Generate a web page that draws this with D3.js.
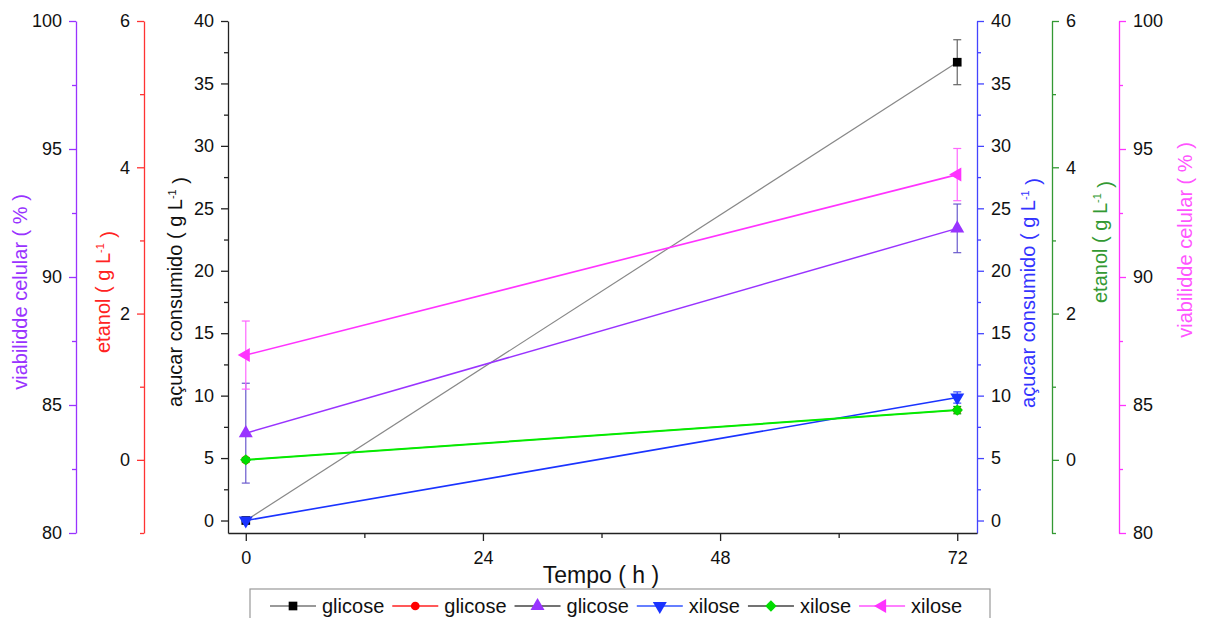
<!DOCTYPE html>
<html>
<head>
<meta charset="utf-8">
<script src="https://cdn.jsdelivr.net/npm/d3@7"></script>
<style>
  body { margin: 0; background: #fff; }
  svg { font-family: "Liberation Sans", Arial, sans-serif; }
</style>
</head>
<body>
<svg id="chart" width="1206" height="618"></svg>
<script>
// sampling times (h)
const times = [0, 72];

// glicose
const glicoseAcucar = [0, 36.7];
const glicoseAcucarErr = [0, 1.8];
const glicoseEtanol = [0, 0.68];
const glicoseEtanolErr = [0, 0];
const glicoseViab = [83.9, 91.9];
const glicoseViabErr = [1.95, 0.95];

// xilose
const xiloseAcucar = [0, 9.85];
const xiloseAcucarErr = [0.1, 0.45];
const xiloseEtanol = [0, 0.68];
const xiloseEtanolErr = [0.03, 0.05];
const xiloseViab = [86.95, 94.0];
const xiloseViabErr = [1.33, 1.02];

// tick values
const xTicks = [0, 24, 48, 72];
const xMinor = [12, 36, 60];
const acucarTicks = [0, 5, 10, 15, 20, 25, 30, 35, 40];
const acucarMinor = [2.5, 7.5, 12.5, 17.5, 22.5, 27.5, 32.5, 37.5];
const etanolTicks = [0, 2, 4, 6];
const etanolMinor = [-1, 1, 3, 5];
const viabTicks = [80, 85, 90, 95, 100];
const viabMinor = [82.5, 87.5, 92.5, 97.5];

const svg = d3.select('#chart');
const yTop = 21, yBottom = 533;

const x = d3.scaleLinear().domain([-1.8, 74]).range([228, 977]);
const yAcucar = d3.scaleLinear().domain([-1, 40]).range([yBottom, yTop]);
const yEtanol = d3.scaleLinear().domain([-1, 6]).range([yBottom, yTop]);
const yViab = d3.scaleLinear().domain([80, 100]).range([yBottom, yTop]);

// draws one y axis with major + minor ticks
function yAxis(scale, side, xPos, color, major, minor) {
    const make = side === 'left' ? d3.axisLeft : d3.axisRight;
    const g = svg.append('g').attr('transform', 'translate(' + xPos + ',0)');
    g.call(make(scale).tickValues(major).tickSize(7).tickSizeOuter(0).tickPadding(7).tickFormat(d3.format('d')));
    g.append('g').call(make(scale).tickValues(minor).tickSize(4).tickSizeOuter(0).tickFormat(''))
        .select('.domain').remove();
    g.selectAll('path, line').attr('stroke', color).attr('stroke-width', 1.3);
    g.selectAll('text').attr('fill', '#111').style('font-size', '18px').style('font-family', '"Liberation Sans", Arial, sans-serif');
    return g;
}

function axisTitle(xPos, yPos, color, main, sup) {
    const t = svg.append('text')
        .attr('transform', 'translate(' + xPos + ',' + yPos + ') rotate(-90)')
        .attr('text-anchor', 'middle')
        .attr('dy', '0.35em')
        .attr('fill', color)
        .style('font-size', '20px');
    t.append('tspan').text(main);
    if (sup) {
        t.append('tspan').attr('dy', '-0.55em').style('font-size', '11px').text(sup);
        t.append('tspan').attr('dy', '0.55em').text(' )');
    }
}

yAxis(yViab, 'left', 76, '#9933ff', viabTicks, viabMinor);
yAxis(yEtanol, 'left', 144, '#ff3333', etanolTicks, etanolMinor);
yAxis(yAcucar, 'left', 228, '#222', acucarTicks, acucarMinor);
yAxis(yAcucar, 'right', 977, '#4444ff', acucarTicks, acucarMinor);
yAxis(yEtanol, 'right', 1052, '#339933', etanolTicks, etanolMinor);
yAxis(yViab, 'right', 1119, '#ff33ff', viabTicks, viabMinor);

// bottom axis
const gx = svg.append('g').attr('transform', 'translate(0,' + yBottom + ')');
gx.call(d3.axisBottom(x).tickValues(xTicks).tickSize(8).tickSizeOuter(0).tickPadding(10));
gx.append('g').call(d3.axisBottom(x).tickValues(xMinor).tickSize(5).tickSizeOuter(0).tickFormat(''))
    .select('.domain').remove();
gx.selectAll('path, line').attr('stroke', '#222').attr('stroke-width', 1.3);
gx.selectAll('text').attr('fill', '#111').style('font-size', '18px').style('font-family', '"Liberation Sans", Arial, sans-serif');

svg.append('text').attr('x', 601).attr('y', 583).attr('text-anchor', 'middle')
    .attr('fill', '#111').style('font-size', '23px').text('Tempo ( h )');

axisTitle(20, 292, '#9933ff', 'viabilidde celular ( % )');
axisTitle(103, 292, '#ff2222', 'etanol ( g L', '-1');
axisTitle(175, 292, '#111', 'açucar  consumido ( g L', '-1');
axisTitle(1028, 293, '#3333ff', 'açucar  consumido ( g L', '-1');
axisTitle(1100, 242, '#339933', 'etanol ( g L', '-1');
axisTitle(1185, 240, '#ff55ff', 'viabilidde celular ( % )');

// marker shapes
const shapes = {
    square: { type: d3.symbolSquare, size: 75, rot: 0 },
    circle: { type: d3.symbolCircle, size: 60, rot: 0 },
    up: { type: d3.symbolTriangle, size: 85, rot: 0 },
    down: { type: d3.symbolTriangle, size: 85, rot: 180 },
    diamond: { type: d3.symbolSquare, size: 65, rot: 45 },
    left: { type: d3.symbolTriangle, size: 85, rot: -90 }
};

const series = [
    { label: 'glicose', vals: glicoseAcucar, err: glicoseAcucarErr, y: yAcucar, line: '#888', lineW: 1.2, color: '#000', errColor: '#666', shape: 'square', legLine: '#777' },
    { label: 'glicose', vals: glicoseEtanol, err: glicoseEtanolErr, y: yEtanol, line: '#ff0000', lineW: 1.0, color: '#ff0000', errColor: '#ff0000', shape: 'circle', legLine: '#ff2222' },
    { label: 'glicose', vals: glicoseViab, err: glicoseViabErr, y: yViab, line: '#9933ff', lineW: 1.5, color: '#9933ff', errColor: '#6a5acd', shape: 'up', legLine: '#444' },
    { label: 'xilose', vals: xiloseAcucar, err: xiloseAcucarErr, y: yAcucar, line: '#1a33ff', lineW: 1.6, color: '#1a33ff', errColor: '#3344ff', shape: 'down', legLine: '#3355ff' },
    { label: 'xilose', vals: xiloseEtanol, err: xiloseEtanolErr, y: yEtanol, line: '#00ee00', lineW: 2.0, color: '#00dd00', errColor: '#00aa00', shape: 'diamond', legLine: '#444' },
    { label: 'xilose', vals: xiloseViab, err: xiloseViabErr, y: yViab, line: '#ff33ff', lineW: 1.6, color: '#ff33ff', errColor: '#ff66ff', shape: 'left', legLine: '#ff55ff' }
];

function marker(sel, shape, color) {
    const s = shapes[shape];
    return sel.append('path')
        .attr('d', d3.symbol().type(s.type).size(s.size)())
        .attr('fill', color);
}

const plot = svg.append('g');
series.forEach((s) => {
    const pts = times.map((t, i) => ({ t: t, v: s.vals[i], e: s.err[i] }));
    const g = plot.append('g');
    // error bars
    pts.filter((d) => d.e > 0).forEach((d) => {
        const cx = x(d.t), y1 = s.y(d.v - d.e), y2 = s.y(d.v + d.e);
        g.append('line').attr('x1', cx).attr('x2', cx).attr('y1', y1).attr('y2', y2)
            .attr('stroke', s.errColor).attr('stroke-width', 1.2);
        [y1, y2].forEach((yy) => {
            g.append('line').attr('x1', cx - 4).attr('x2', cx + 4).attr('y1', yy).attr('y2', yy)
                .attr('stroke', s.errColor).attr('stroke-width', 1.2);
        });
    });
    g.append('path').datum(pts)
        .attr('d', d3.line().x((d) => x(d.t)).y((d) => s.y(d.v)))
        .attr('fill', 'none').attr('stroke', s.line).attr('stroke-width', s.lineW);
    pts.forEach((d) => {
        marker(g, s.shape, s.color)
            .attr('transform', 'translate(' + x(d.t) + ',' + s.y(d.v) + ') rotate(' + shapes[s.shape].rot + ')');
    });
});

// legend
const leg = svg.append('g');
leg.append('rect').attr('x', 250).attr('y', 589).attr('width', 740).attr('height', 40)
    .attr('fill', '#fff').attr('stroke', '#999').attr('stroke-width', 1.2);
let lx = 270;
const ly = 606;
series.forEach((s) => {
    leg.append('line').attr('x1', lx).attr('x2', lx + 46).attr('y1', ly).attr('y2', ly)
        .attr('stroke', s.legLine).attr('stroke-width', 1.6);
    marker(leg, s.shape, s.color)
        .attr('transform', 'translate(' + (lx + 23) + ',' + ly + ') rotate(' + shapes[s.shape].rot + ')');
    const t = leg.append('text').attr('x', lx + 52).attr('y', ly + 7)
        .attr('fill', '#111').style('font-size', '20px').text(s.label);
    lx += 52 + t.node().getComputedTextLength() + 8;
});
</script>
</body>
</html>
